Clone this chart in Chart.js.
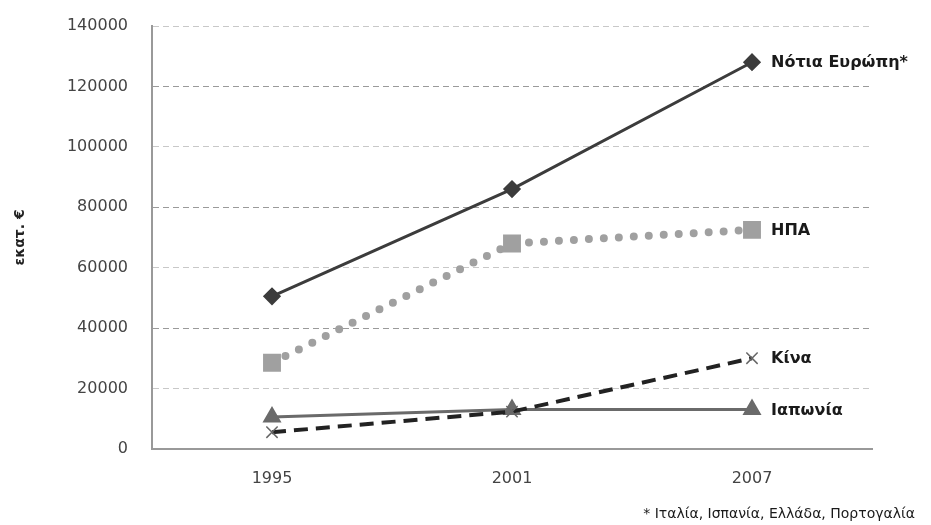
<!DOCTYPE html>
<html>
<head>
<meta charset="utf-8">
<script src="https://cdn.jsdelivr.net/npm/chart.js@4/dist/chart.umd.min.js"></script>
<style>
  html, body { margin: 0; padding: 0; background: #fff; }
  #wrap { width: 931px; height: 525px; position: relative; }
</style>
</head>
<body>
<div id="wrap"><canvas id="grafico"></canvas></div>
<script>
// Datos
const anios = ['1995', '2001', '2007'];
const notiaEuropi = [50500, 86000, 128000];
const ipa = [28500, 68000, 72500];
const kina = [5500, 12300, 30000];
const iaponia = [10500, 13000, 13000];
const nombres = ['Νότια Ευρώπη*', 'ΗΠΑ', 'Κίνα', 'Ιαπωνία'];
const yMin = 0, yMax = 140000, yPaso = 20000;
const tituloY = 'εκατ. €';
const nota = '* Ιταλία, Ισπανία, Ελλάδα, Πορτογαλία';

const fuente = '"DejaVu Sans", "Open Sans", sans-serif';

// etiquetas al final de cada serie + nota al pie
const etiquetasFinales = {
  id: 'etiquetasFinales',
  afterDatasetsDraw(chart) {
    const ctx = chart.ctx;
    ctx.save();
    ctx.fillStyle = '#1a1a1a';
    ctx.textBaseline = 'middle';
    ctx.textAlign = 'left';
    chart.data.datasets.forEach((ds, i) => {
      const meta = chart.getDatasetMeta(i);
      const p = meta.data[meta.data.length - 1];
      ctx.font = 'bold 16px ' + fuente;
      ctx.fillText(ds.label, p.x + 19, p.y + 1);
    });
    ctx.font = '14px ' + fuente;
    ctx.textAlign = 'right';
    ctx.fillText(nota, 915, 514);
    ctx.restore();
  }
};

new Chart(document.getElementById('grafico'), {
  type: 'line',
  data: {
    labels: anios,
    datasets: [
      {
        label: nombres[0], data: notiaEuropi,
        borderColor: '#3c3c3c', backgroundColor: '#3c3c3c',
        borderWidth: 3, pointStyle: 'rectRot', pointRadius: 7
      },
      {
        label: nombres[1], data: ipa,
        borderColor: '#a0a0a0', backgroundColor: '#a0a0a0',
        borderWidth: 8, borderDash: [0, 15], borderCapStyle: 'round',
        pointStyle: 'rect', pointRadius: 7
      },
      {
        label: nombres[2], data: kina,
        borderColor: '#222222', backgroundColor: '#777777',
        borderWidth: 4, borderDash: [14, 8],
        pointStyle: 'crossRot', pointRadius: 8, pointBorderColor: '#666', pointBorderWidth: 1.5
      },
      {
        label: nombres[3], data: iaponia,
        borderColor: '#6a6a6a', backgroundColor: '#6a6a6a',
        borderWidth: 3, pointStyle: 'triangle', pointRadius: 8
      }
    ]
  },
  options: {
    responsive: true,
    maintainAspectRatio: false,
    animation: false,
    layout: { padding: { top: 26, right: 59, bottom: 17, left: 0 } },
    plugins: {
      legend: { display: false },
      tooltip: { enabled: false }
    },
    scales: {
      x: {
        offset: true,
        grid: { display: false, drawTicks: false },
        border: { color: '#999', width: 2 },
        ticks: { color: '#444', padding: 20, font: { family: fuente, size: 16 } }
      },
      y: {
        min: yMin, max: yMax,
        afterFit(scale) { scale.width = 152; },
        ticks: {
          stepSize: yPaso, color: '#444', padding: 4,
          font: { family: fuente, size: 16 },
          callback: (v) => String(v)
        },
        grid: {
          drawTicks: true, tickLength: 20, tickColor: 'rgba(0,0,0,0)',
          color: (c) => (c.index % 2 === 0 ? '#9a9a9a' : '#c8c8c8'),
          lineWidth: 1
        },
        border: { color: '#999', width: 2, dash: [6, 4] },
        title: {
          display: true, text: tituloY, color: '#222',
          padding: { top: 12 },
          font: { family: fuente, size: 14, weight: 'bold' }
        }
      }
    }
  },
  plugins: [etiquetasFinales]
});
</script>
</body>
</html>
